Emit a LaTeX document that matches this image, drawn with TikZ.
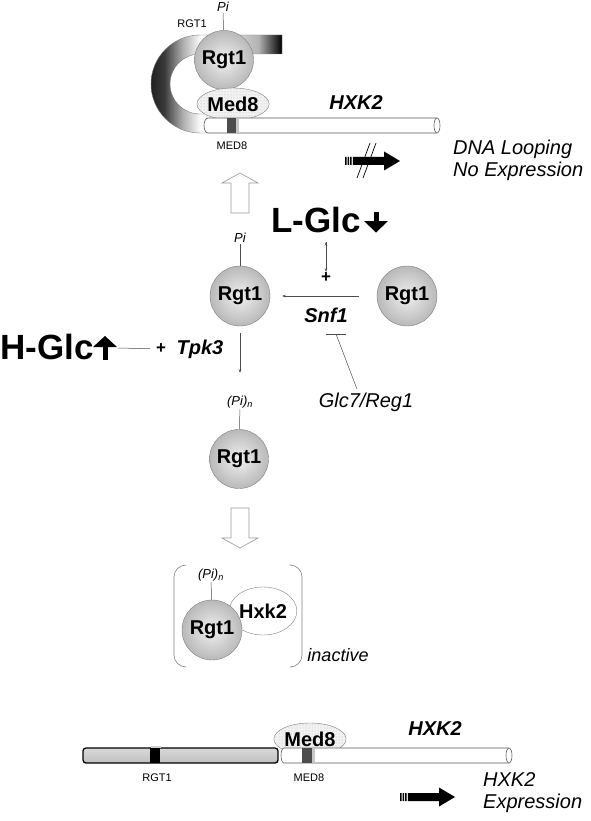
\documentclass[tikz,border=0pt]{standalone}
\usepackage{fontspec}
\setmainfont{Liberation Sans}
\usetikzlibrary{arrows.meta, positioning, shapes.geometric, patterns}
\pgfdeclarehorizontalshading{loopshade}{100bp}{color(0bp)=(gray!25!black);
    color(25bp)=(gray!25!black); color(30bp)=(gray!45!black); color(37bp)=(gray!65);
    color(44bp)=(white); color(58bp)=(gray!35); color(66bp)=(gray!60);
    color(75bp)=(black); color(100bp)=(black)}

\begin{document}
\begin{tikzpicture} [x=1pt, y=1pt, yscale=-1,
    link/.style = {draw=gray!60!black, line width=0.5pt},
    tip/.style = {-{Stealth[length=3.5pt, width=2.5pt]}},
    ball/.style = {circle, draw=gray, inner sep=0pt, minimum size=59pt,
        inner color=gray!12, outer color=gray!55,
        font=\bfseries\fontsize{20}{20}\selectfont},
    partner/.style = {ellipse, draw=gray, inner sep=0pt,
        font=\bfseries\fontsize{20}{20}\selectfont},
    speckled/.style = {preaction={fill=gray!10}, pattern=dots, pattern color=gray!55},
    tag/.style = {font=\itshape\fontsize{13}{13}\selectfont, inner sep=1pt},
    site/.style = {font=\fontsize{11}{11}\selectfont, inner sep=1pt},
    gene/.style = {font=\bfseries\itshape\fontsize{20}{20}\selectfont, inner sep=1pt},
    sugar/.style = {font=\bfseries\fontsize{35}{35}\selectfont, inner sep=0pt},
    plus/.style = {font=\bfseries\fontsize{17}{17}\selectfont, inner sep=1pt},
    note/.style = {font=\itshape\fontsize{20}{22}\selectfont, align=left, anchor=west, inner sep=0pt},
    tube/.style = {draw=gray!70!black, fill=white, line width=0.6pt},
    hollow/.style = {draw=gray!80, fill=white, line width=0.6pt},
    express/.pic = {
        \fill (0,-4) rectangle (1.5,4) (2.6,-4) rectangle (4.1,4)
              (5.2,-4) rectangle (6.7,4) (7.8,-4) rectangle (40,4);
        \fill (39,-9.5) -- (55,0) -- (39,9.5) -- cycle;
    }]
    \useasboundingbox (0,0) rectangle (591,821);

    % looped promoter, no expression
    \draw [draw=gray, shading=loopshade]
        (207,133) -- (200,133) arc [start angle=90, end angle=270, radius=49pt]
        -- (282,35) -- (282,54) -- (200,54)
        arc [start angle=270, end angle=90, radius=30pt] -- (207,114) -- cycle;
    \node (rgtTop) at (224,60) [ball] {Rgt1};
    \node (medTop) at (233,104) [partner, speckled, minimum width=54pt, minimum height=32pt] {Med8};
    \draw [tube] (437,118) -- (208,118)
        arc [start angle=270, end angle=90, x radius=4pt, y radius=7.5pt] -- (437,133);
    \draw [tube] (437,125.5) ellipse [x radius=3pt, y radius=7.5pt];
    \fill [gray!60!black] (227,118.3) rectangle (236,132.7);
    \fill [gray!45] (236,118.3) rectangle (239,132.7);
    \node (piTop) at (223,7) [tag] {Pi};
    \node (siteRgtTop) at (192,24) [site] {RGT1};
    \node (siteMedTop) at (232,146) [site] {MED8};
    \node (hxkTop) at (356,103) [gene] {HXK2};
    \path [link] (piTop) edge (rgtTop);

    \pic at (345,161) {express};
    \draw [line width=0.7pt] (357,178) -- (370,143) (363,178) -- (376,143);
    \node (looping) at (453,160) [note] {DNA Looping\\No Expression};

    \draw [hollow] (231,213) -- (231,183) -- (222,183) -- (240,173)
        -- (258,183) -- (249,183) -- (249,213) -- cycle;

    % phosphorylation steps
    \node (rgtMid) at (240,296) [ball, minimum size=60pt] {Rgt1};
    \node (piMid) at (240,238) [tag] {Pi};
    \node (rgtSide) at (407,296) [ball, minimum size=60pt] {Rgt1};
    \path [link] (piMid) edge (rgtMid);

    \node (lglc) at (316,220) [sugar] {L-Glc};
    \fill (373.5,212) rectangle (378.5,223);
    \fill (364,221) -- (388,221) -- (376,232.5) -- cycle;
    \coordinate (lglcFoot) at (326,242);
    \node (plusL) at (326,278) [plus] {+};
    \node (snf) at (326,315) [gene] {Snf1};
    \path [link, tip] (lglcFoot) edge (plusL);
    \path [link, tip] (rgtSide) edge [shorten <=18pt, shorten >=12pt] (rgtMid);

    \node (glc) at (366,402) [font=\itshape\fontsize{20}{20}\selectfont] {Glc7/Reg1};
    \coordinate (snfBar) at (336,334);
    \path [link] (glc.125) edge (snfBar);
    \draw [link] ([xshift=-10pt]snfBar) -- ([xshift=10pt]snfBar);

    \node (hglc) at (0,347) [sugar, anchor=west] {H-Glc};
    \fill (102.5,346) rectangle (107.5,360);
    \fill (93,347) -- (117,347) -- (105,336) -- cycle;
    \coordinate (hglcTail) at (118,348);
    \node (plusH) at (161,349) [plus] {+};
    \node (tpk) at (200,349) [gene] {Tpk3};
    \path [link] (hglcTail) edge [shorten >=5pt] (plusH);

    \node (pinMid) at (240,402) [tag] {(Pi)\textsubscript{n}};
    \node (rgtLow) at (239,459) [ball] {Rgt1};
    \path [link, tip] (rgtMid) edge [shorten <=7pt, shorten >=22pt] (pinMid);
    \path [link] (pinMid) edge (rgtLow);

    \draw [hollow] (231,508) -- (231,538) -- (222,538) -- (240,548)
        -- (258,538) -- (249,538) -- (249,508) -- cycle;

    % inactive complex
    \node (hxk) at (263,611) [partner, fill=white, minimum width=60pt, minimum height=48pt] {Hxk2};
    \node (rgtCx) at (212,630) [ball, minimum size=60pt] {Rgt1};
    \node (pinCx) at (211,575) [tag] {(Pi)\textsubscript{n}};
    \path [link] (pinCx) edge (rgtCx);
    \draw [gray, line width=0.6pt, rounded corners=12pt]
        (186,565) -- (174,565) -- (174,667) -- (186,667);
    \draw [gray, line width=0.6pt, rounded corners=12pt]
        (291,565) -- (302,565) -- (302,667) -- (291,667);
    \node (inactive) at (338,655) [font=\itshape\fontsize{18}{18}\selectfont] {inactive};

    % open promoter, expression
    \node (medLow) at (310,739) [partner, speckled, minimum width=55pt, minimum height=32pt] {Med8};
    \draw [line width=1.3pt, top color=gray!30, middle color=white, bottom color=gray!50,
        rounded corners=3pt] (83,748) rectangle (278,763);
    \draw [tube] (509,748) -- (284,748)
        arc [start angle=270, end angle=90, x radius=3pt, y radius=7.5pt] -- (509,763);
    \draw [tube] (509,755.5) ellipse [x radius=3pt, y radius=7.5pt];
    \fill [gray!35] (151,745.5) rectangle (161,748);
    \fill [black] (150,748) rectangle (160,763);
    \fill [gray!60!black] (302,748.3) rectangle (312,762.7);
    \fill [gray!45] (312,748.3) rectangle (315,762.7);
    \node (siteRgtLow) at (157,778) [site] {RGT1};
    \node (siteMedLow) at (309,778) [site] {MED8};
    \node (hxkLow) at (435,729) [gene] {HXK2};

    \pic at (400,797) {express};
    \node (expression) at (483,793) [note] {HXK2\\Expression};
\end{tikzpicture}
\end{document}
